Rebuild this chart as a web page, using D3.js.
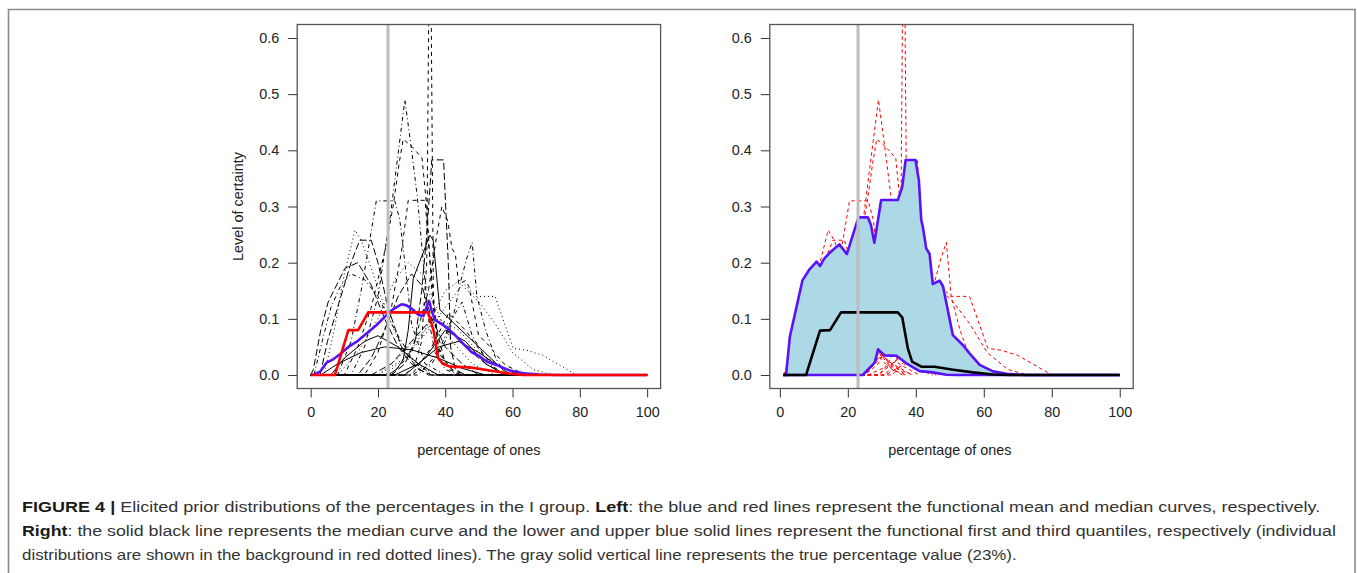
<!DOCTYPE html>
<html>
<head>
<meta charset="utf-8">
<script src="https://cdn.jsdelivr.net/npm/d3@7"></script>
<style>
  html, body { margin: 0; padding: 0; background: #fff; }
  svg { display: block; }
</style>
</head>
<body>
<svg id="fig" width="1357" height="573"></svg>
<script>
// ---- axis ticks -------------------------------------------------------
const xTicks = [0, 20, 40, 60, 80, 100];
const xTickLabels = ["0", "20", "40", "60", "80", "100"];
const yTicks = [0, 0.1, 0.2, 0.3, 0.4, 0.5, 0.6];
const yTickLabels = ["0.0", "0.1", "0.2", "0.3", "0.4", "0.5", "0.6"];
const truePercentage = 23;

// ---- individual elicited distributions: [percentage, certainty] -------
const expert01 = [[0,0],[23,0],[25.5,0.01],[27.5,0.027],[29,0.08],[30.5,0.172],[33.5,0.219],[35.4,0.249],[36.4,0.24],[38.4,0.116],[57.2,0.009],[60,0],[100,0]];
const expert02 = [[0,0],[28,0],[31,0.02],[33,0.06],[34.5,0.2],[35.1,0.66],[35.8,0.66],[36.5,0.12],[38,0.04],[42,0.01],[46,0],[100,0]];
const expert03 = [[0,0],[22,0],[28,0.03],[34,0.08],[40,0.15],[44.4,0.169],[49.3,0.14],[54.8,0.14],[60.2,0.0475],[64.2,0.044],[69,0.035],[78.5,0.002],[80,0],[100,0]];
const expert04 = [[0,0],[12,0],[16,0.05],[20,0.14],[23.6,0.28],[28,0.49],[30,0.4],[31.7,0.317],[33.5,0.2],[35,0.1],[37,0.04],[40,0.01],[44,0],[100,0]];
const expert05 = [[0,0],[24,0],[28,0.02],[31,0.06],[33,0.15],[34.5,0.25],[36,0.383],[39.5,0.383],[40.9,0.2],[41.6,0.05],[43,0.01],[46,0],[100,0]];
const expert06 = [[0,0],[3,0],[8,0.02],[15,0.04],[22,0.05],[30,0.045],[38,0.03],[45,0.012],[52,0],[100,0]];
const expert07 = [[0,0],[10,0],[14,0.05],[18,0.12],[22,0.22],[24.5,0.3],[26.3,0.377],[27.5,0.42],[30.2,0.406],[33.1,0.386],[34.5,0.3],[36,0.15],[38,0.05],[41,0.01],[45,0],[100,0]];
const expert08 = [[0,0],[4,0],[7,0.08],[10,0.18],[13.2,0.258],[15,0.24],[18,0.19],[22,0.12],[27,0.05],[32,0.015],[38,0],[100,0]];
const expert09 = [[0,0],[8,0],[12,0.06],[15,0.15],[17,0.22],[19.5,0.31],[25,0.31],[26.5,0.276],[28,0.2],[30,0.09],[34,0.02],[40,0],[100,0]];
const expert10 = [[0,0],[2.8,0],[5,0.06],[8.7,0.134],[12,0.2],[14.6,0.24],[18,0.24],[20,0.2],[23,0.12],[27,0.05],[32,0.01],[36,0],[100,0]];
const expert11 = [[0,0],[25,0],[32,0.02],[38,0.05],[44,0.06],[50,0.04],[56,0.015],[62,0],[100,0]];
const expert12 = [[0,0],[16,0],[20,0.04],[24,0.12],[27,0.22],[29,0.311],[34,0.311],[35.5,0.2],[37.5,0.08],[40,0.02],[44,0],[100,0]];
const expert13 = [[0,0],[8,0],[14,0.04],[20,0.1],[25,0.17],[29,0.2],[33,0.18],[37,0.12],[42,0.06],[48,0.02],[55,0],[100,0]];
const expert14 = [[0,0],[30,0],[36,0.02],[40,0.06],[43,0.12],[44.5,0.165],[46.5,0.21],[48,0.236],[49.4,0.14],[52,0.08],[55,0.03],[58,0],[100,0]];
const expert15 = [[0,0],[0.8,0.01],[3,0.08],[5.2,0.13],[10.2,0.19],[14,0.2],[18,0.16],[22,0.1],[26,0.05],[30,0.02],[35,0],[100,0]];
const expert16 = [[0,0],[6,0],[10,0.03],[16,0.06],[20,0.07],[26,0.05],[32,0.02],[38,0],[100,0]];
const expert17 = [[0,0],[24,0],[30,0.04],[35,0.15],[37.5,0.25],[39,0.3],[40.6,0.276],[41,0.264],[42,0.2255],[43,0.215],[44,0.162],[46,0.168],[47,0.158],[49.9,0.071],[52.9,0.053],[54.8,0.0386],[57.8,0.018],[61.7,0.0065],[65.7,0],[100,0]];
const expert18 = [[0,0],[20,0],[28,0.03],[35,0.08],[40,0.12],[45,0.16],[50,0.13],[55,0.09],[60,0.04],[66,0.01],[72,0],[100,0]];
const expert19 = [[0,0],[1,0],[3,0.05],[6,0.12],[9,0.16],[12,0.18],[16,0.17],[20,0.14],[25,0.08],[30,0.03],[36,0],[100,0]];
const expert20 = [[0,0],[14,0],[18,0.03],[22,0.08],[26,0.14],[30,0.18],[33,0.16],[36,0.1],[40,0.05],[45,0.02],[50,0],[100,0]];
const expert21 = [[0,0],[28,0],[34,0.03],[40,0.08],[46,0.06],[52,0.02],[58,0],[100,0]];
const expert22 = [[0,0],[30,0],[36,0.05],[41,0.11],[46,0.08],[52,0.03],[58,0.01],[64,0],[100,0]];
const expert23 = [[0,0],[20,0],[26,0.03],[32,0.07],[38,0.1],[44,0.08],[50,0.04],[58,0.01],[66,0],[100,0]];
const expert24 = [[0,0],[32,0],[38,0.04],[42,0.1],[45,0.13],[48,0.07],[53,0.02],[58,0],[100,0]];
const expert25 = [[0,0],[18,0],[24,0.02],[30,0.06],[36,0.1],[40,0.09],[46,0.05],[52,0.02],[58,0],[100,0]];

const experts = [expert01, expert02, expert03, expert04, expert05, expert06, expert07,
  expert08, expert09, expert10, expert11, expert12, expert13, expert14, expert15,
  expert16, expert17, expert18, expert19, expert20, expert21, expert22, expert23,
  expert24, expert25];

// ---- left panel: functional mean and median ---------------------------
const meanCurve = [[0,0],[1,0.001],[2.8,0.006],[4.7,0.022],[6.7,0.028],[8.7,0.037],[11.2,0.05],[13.6,0.059],[16.6,0.074],[19.6,0.089],[22.6,0.107],[24.5,0.117],[27,0.126],[28.5,0.124],[30.5,0.116],[32,0.107],[33.5,0.105],[34.5,0.122],[35.2,0.132],[35.9,0.116],[36.9,0.098],[39.4,0.089],[42.4,0.074],[45.3,0.056],[47.8,0.041],[50.3,0.033],[52.3,0.024],[55.2,0.018],[59.2,0.008],[63.2,0.003],[68,0.001],[73,0],[100,0]];
const medianCurveLeft = [[0,0],[7.2,0],[11.2,0.08],[14.1,0.08],[17.1,0.1116],[34.9,0.1116],[36.5,0.08],[37.9,0.03],[39.4,0.0196],[41.4,0.015],[47.3,0.0136],[53.3,0.008],[58.2,0.003],[63,0],[100,0]];

// ---- right panel: functional median and quartile band -----------------
const medianCurve = [[1,0],[7.7,0],[11.8,0.079],[14.75,0.08],[18,0.1116],[34.7,0.1116],[36,0.1027],[37.65,0.0475],[38.9,0.024],[41.6,0.0148],[45.5,0.0148],[51,0.0095],[56.8,0.0047],[62.7,0.001],[68,0],[100,0]];
const thirdQuartile = [[1,0],[1.8,0],[2.94,0.068],[6.67,0.169],[8.6,0.187],[10.8,0.2018],[11.8,0.194],[13.1,0.2077],[15,0.2195],[17.5,0.2326],[19.7,0.2154],[22.4,0.267],[23.2,0.2807],[25.9,0.2807],[26.8,0.267],[27.8,0.2356],[29.8,0.3115],[34.7,0.3115],[36,0.335],[37,0.3828],[39.9,0.3828],[40.9,0.347],[41.6,0.276],[42.07,0.264],[43.06,0.2255],[44.05,0.2154],[45,0.162],[47,0.168],[48,0.158],[50.9,0.071],[53.9,0.053],[55.8,0.0386],[58.8,0.018],[62.7,0.0065],[66.7,0.002],[72,0],[100,0]];
const firstQuartile = [[1,0],[24.4,0],[27.9,0.022],[28.9,0.0457],[30.8,0.035],[34.3,0.0344],[37.2,0.0208],[41.1,0.007],[45,0.0047],[49,0.0006],[52,0],[100,0]];

// ---- caption ----------------------------------------------------------
const captionLines = [
  [["FIGURE 4 | ", true], ["Elicited prior distributions of the percentages in the I group. ", false], ["Left", true], [": the blue and red lines represent the functional mean and median curves, respectively.", false]],
  [["Right", true], [": the solid black line represents the median curve and the lower and upper blue solid lines represent the functional first and third quantiles, respectively (individual", false]],
  [["distributions are shown in the background in red dotted lines). The gray solid vertical line represents the true percentage value (23%).", false]]
];

// =======================================================================
const svg = d3.select("#fig");
const defs = svg.append("defs");
const axisFont = "'Liberation Sans', Arial, Helvetica, sans-serif";
const BLUE = "#5a12f7";

// figure frame
svg.append("path")
  .attr("d", "M8.5,600 V9.5 H1355 V600")
  .attr("fill", "none").attr("stroke", "#8a8a8a").attr("stroke-width", 1.6);

const plotWidth = 363.4;
const boxTop = 24.5, boxBottom = 388.5;
const y = d3.scaleLinear().domain([-0.024, 0.624]).range([boxBottom, boxTop]);

// line types cycled over the curves, as matplot does
const lineTypes = [null, "4,4", "1,3", "1,3,4,3", "7,3"];

function panel(id, left, xDomain, withYTitle) {
  const x = d3.scaleLinear().domain(xDomain).range([left, left + plotWidth]);
  defs.append("clipPath").attr("id", id)
    .append("rect")
    .attr("x", x.range()[0]).attr("y", boxTop)
    .attr("width", plotWidth).attr("height", boxBottom - boxTop);

  const g = svg.append("g");
  const plot = g.append("g").attr("clip-path", `url(#${id})`);

  // x axis
  const xa = g.append("g")
    .attr("transform", `translate(0,${boxBottom})`)
    .call(d3.axisBottom(x).tickValues(xTicks).tickFormat((d, i) => xTickLabels[i])
      .tickSize(9).tickPadding(9));
  // y axis
  const ya = g.append("g")
    .attr("transform", `translate(${x.range()[0]},0)`)
    .call(d3.axisLeft(y).tickValues(yTicks).tickFormat((d, i) => yTickLabels[i])
      .tickSize(9).tickPadding(9));
  [xa, ya].forEach(a => {
    a.select(".domain").remove();
    a.selectAll(".tick line").attr("stroke", "#333").attr("stroke-width", 1);
    a.selectAll(".tick text").attr("fill", "#222")
      .style("font-family", axisFont).style("font-size", "14.4px");
  });

  // plot box
  g.append("rect")
    .attr("x", x.range()[0]).attr("y", boxTop)
    .attr("width", plotWidth).attr("height", boxBottom - boxTop)
    .attr("fill", "none").attr("stroke", "#555").attr("stroke-width", 1.3);

  // axis titles
  g.append("text")
    .attr("x", x(50)).attr("y", 455)
    .attr("text-anchor", "middle").attr("fill", "#222")
    .style("font-family", axisFont).style("font-size", "14.4px")
    .text("percentage of ones");
  if (withYTitle) {
    g.append("text")
      .attr("transform", `translate(${x.range()[0] - 54},${(boxTop + boxBottom) / 2}) rotate(-90)`)
      .attr("text-anchor", "middle").attr("fill", "#222")
      .style("font-family", axisFont).style("font-size", "14.4px")
      .text("Level of certainty");
  }

  const line = d3.line().x(d => x(d[0])).y(d => y(d[1]));
  return { x, g, plot, line };
}

// ---------------- left panel ----------------
const L = panel("clipLeft", 297.2, [-4, 104], true);
experts.forEach((c, i) => {
  const dash = lineTypes[i % lineTypes.length];
  L.plot.append("path").attr("d", L.line(c))
    .attr("fill", "none").attr("stroke", "#000").attr("stroke-width", 1)
    .attr("stroke-dasharray", dash);
});
L.plot.append("path").attr("d", L.line(meanCurve))
  .attr("fill", "none").attr("stroke", BLUE).attr("stroke-width", 2.6)
  .attr("stroke-linejoin", "round");
L.plot.append("path").attr("d", L.line(medianCurveLeft))
  .attr("fill", "none").attr("stroke", "#ff0000").attr("stroke-width", 2.6)
  .attr("stroke-linejoin", "round");
L.plot.append("line")
  .attr("x1", L.x(truePercentage)).attr("x2", L.x(truePercentage))
  .attr("y1", boxTop).attr("y2", boxBottom)
  .attr("stroke", "#bebebe").attr("stroke-width", 3);

// ---------------- right panel ----------------
// the right panel indexes the grid from 1, so each curve sits one step to the right
const R = panel("clipRight", 769.8, [-2.96, 103.96], false);
experts.forEach(c => {
  const shifted = c.map(d => [d[0] + 1, d[1]]).filter(d => d[0] <= 100);
  R.plot.append("path").attr("d", R.line(shifted))
    .attr("fill", "none").attr("stroke", "#ff0000").attr("stroke-width", 1)
    .attr("stroke-dasharray", "3.5,3");
});
// quartile band
const band = thirdQuartile.concat(firstQuartile.slice().reverse());
R.plot.append("path").attr("d", R.line(band) + "Z")
  .attr("fill", "#add8e6").attr("stroke", "none");
[firstQuartile, thirdQuartile].forEach(q => {
  R.plot.append("path").attr("d", R.line(q))
    .attr("fill", "none").attr("stroke", BLUE).attr("stroke-width", 2.6)
    .attr("stroke-linejoin", "round");
});
R.plot.append("path").attr("d", R.line(medianCurve))
  .attr("fill", "none").attr("stroke", "#000").attr("stroke-width", 2.6)
  .attr("stroke-linejoin", "round");
R.plot.append("line")
  .attr("x1", R.x(truePercentage)).attr("x2", R.x(truePercentage))
  .attr("y1", boxTop).attr("y2", boxBottom)
  .attr("stroke", "#bebebe").attr("stroke-width", 3);

// ---------------- caption ----------------
const captionFont = "'Liberation Sans', Arial, Helvetica, sans-serif";
const captionBaselines = [512, 536, 560];
const captionRightEdges = [1321, 1337, 1017];
const captionLeft = 22;
captionLines.forEach((parts, i) => {
  const t = svg.append("text")
    .attr("x", 0).attr("y", 0)
    .attr("fill", "#2a2a2a")
    .style("font-family", captionFont).style("font-size", "15px");
  parts.forEach(([s, bold]) => {
    t.append("tspan").text(s).attr("font-weight", bold ? "bold" : "normal")
      .attr("fill", bold ? "#1a1a1a" : "#333");
  });
  const w = t.node().getComputedTextLength();
  const k = (captionRightEdges[i] - captionLeft) / w;
  t.attr("transform", `translate(${captionLeft},${captionBaselines[i]}) scale(${k},1)`);
});
</script>
</body>
</html>
